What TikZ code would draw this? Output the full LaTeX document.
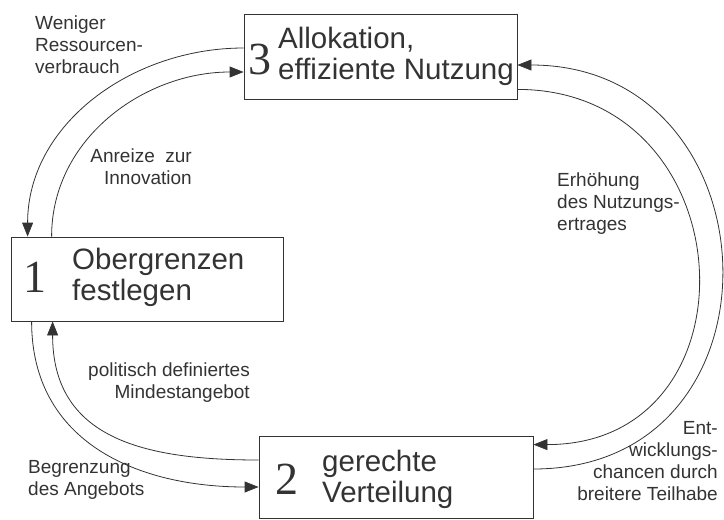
\documentclass[tikz,border=0pt]{standalone}
\usepackage{fontspec}
\setmainfont{Liberation Sans}
\newfontfamily\numfont{Liberation Serif}
\usepackage{xcolor}
\usepackage{tikz}
\usetikzlibrary{arrows.meta,positioning}
\definecolor{ink}{gray}{0.2}

\begin{document}
\begin{tikzpicture}[
    x=1pt, y=1pt,
    box/.style={rectangle, draw=ink, line width=0.8pt, inner sep=0pt},
    num/.style={inner sep=0pt, text=ink, font=\numfont\fontsize{46}{46}\selectfont},
    txt/.style={inner sep=0pt, text=ink, align=left, font=\fontsize{29.5}{30.5}\selectfont},
    lbl/.style={inner sep=0pt, text=ink, font=\fontsize{19}{22}\selectfont},
    arrow/.style={-{Triangle[length=14pt,width=11pt]}, draw=ink, line width=0.8pt}
]
    \useasboundingbox (0,0) rectangle (724,-520);

    \node[box, minimum width=273pt, minimum height=85pt] (alloc) at (380.5,-56.5) {};
    \node[box, minimum width=272pt, minimum height=84pt] (obergr) at (147,-279) {};
    \node[box, minimum width=274pt, minimum height=82pt] (vert) at (396,-477) {};

    \node[num] (alloc-num) at (260,-59) {3};
    \node[num] (obergr-num) at (35,-277) {1};
    \node[num] (vert-num) at (287,-479) {2};

    \node[txt, anchor=base west] (alloc-txt) at (278,-79) {Allokation,\\effiziente Nutzung};
    \node[txt, anchor=base west] (obergr-txt) at (72,-300) {Obergrenzen\\festlegen};
    \node[txt, anchor=base west] (vert-txt) at (322,-502) {gerechte\\Verteilung};

    \node[lbl, align=left, anchor=base west] (weniger) at (35,-73) {Weniger\\Ressourcen-\\verbrauch};
    \node[lbl, align=right, anchor=base east] (anreize) at (192,-184) {Anreize\ \ zur\\Innovation};
    \node[lbl, align=left, anchor=base west] (ertrag) at (557,-230) {Erhöhung\\des Nutzungs-\\ertrages};
    \node[lbl, align=right, anchor=base east] (mindest) at (250,-398) {politisch definiertes\\Mindestangebot};
    \node[lbl, align=left, anchor=base west] (begrenz) at (28,-495) {Begrenzung\\des Angebots};
    \node[lbl, align=right, anchor=base east] (teilhabe) at (718,-500) {Ent-\\wicklungs-\\chancen durch\\breitere Teilhabe};

    \draw[arrow] ([yshift=8.5pt]alloc.west) to[out=180, in=90] ([xshift=17pt]obergr.north west);
    \draw[arrow] ([xshift=41pt]obergr.north west) to[out=90, in=180] ([yshift=-15.5pt]alloc.west);
    \draw[arrow] ([yshift=8pt]vert.east) to[out=0, in=0, looseness=1.65] ([yshift=-8.5pt]alloc.east);
    \draw[arrow] ([yshift=10pt]alloc.south east) to[out=0, in=0, looseness=1.65] ([yshift=-9pt]vert.north east);
    \draw[arrow] ([xshift=21pt]obergr.south west) to[out=270, in=180, looseness=1.1] ([yshift=-10pt]vert.west);
    \draw[arrow] ([yshift=17pt]vert.west) to[out=180, in=270, looseness=1.2] ([xshift=42pt]obergr.south west);
\end{tikzpicture}
\end{document}
